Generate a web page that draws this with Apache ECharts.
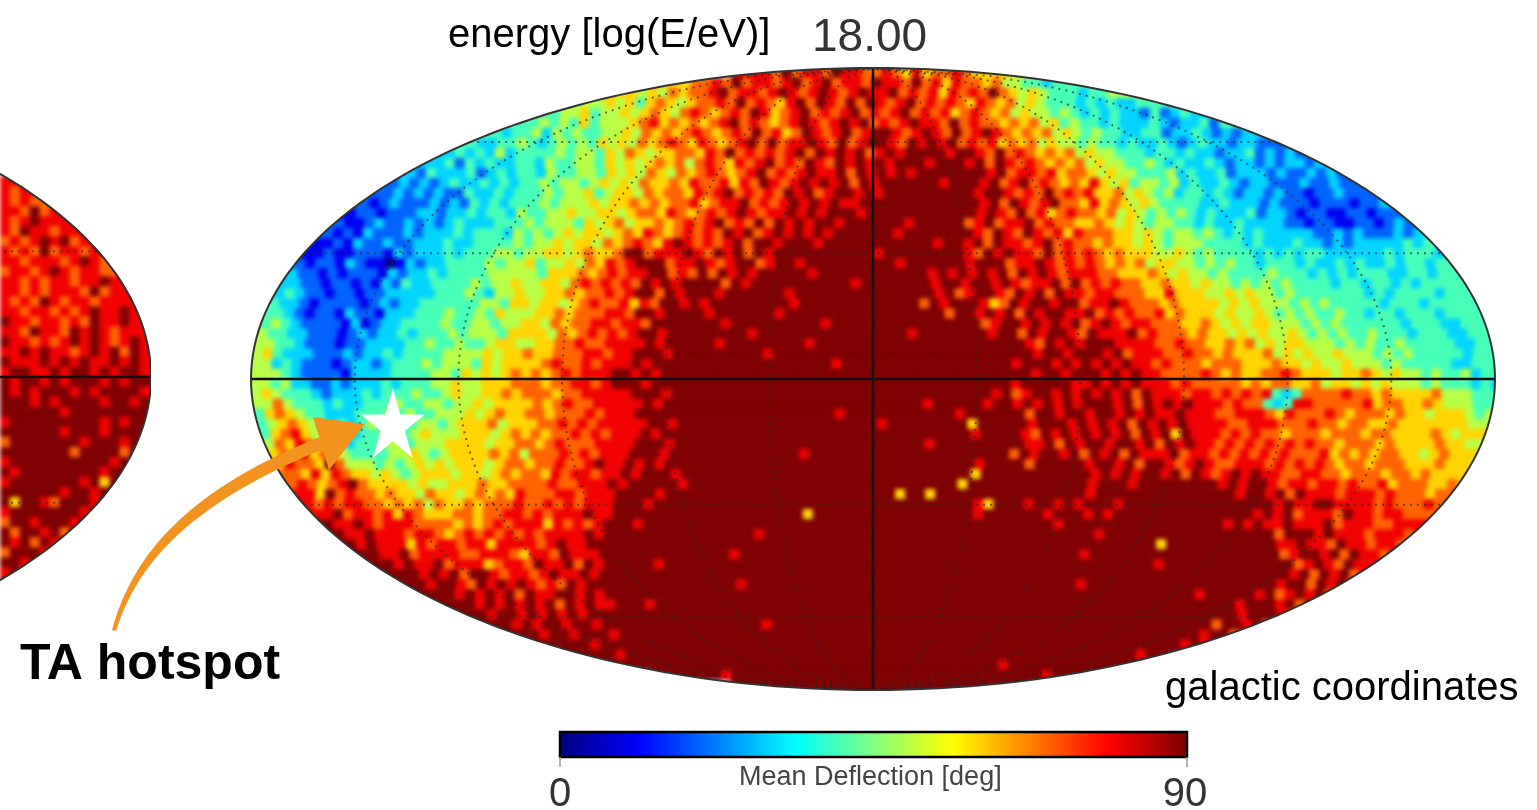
<!DOCTYPE html>
<html><head><meta charset="utf-8">
<style>html,body{margin:0;padding:0;background:#fff}
#map,#c{position:absolute;left:0;top:0;width:1537px;height:810px}
#map{filter:blur(2px);clip-path:path('M251 379 A622 311 0 1 0 1495 379 A622 311 0 1 0 251 379 Z M151 377 A622 311 0 1 0 -1093 377 A622 311 0 1 0 151 377 Z')}
</style>
<script src="https://cdn.jsdelivr.net/npm/echarts@6/dist/echarts.min.js"></script>
</head><body><div id="map"></div><div id="c"></div>
<script>
// Mean deflection per sky cell, in tens of degrees (0..9). One string per latitude band, north to south;
// each string starts at the western limb of the map. Spaces only group the cells.
const skyRows = [
"8797887988 7787686778 76",
"6778797887 8978978879 8879786877 67554434",
"6565767 78978878987898789 8897878687879 765654443445",
"55656467656 77879787689798797 9878978787687 6756544434343344",
"455645565 67657876 787986789787897 87897878678 767565 545434 3433242343",
"4454546455 56786767 678978767898789 8978789887978 776767 564544 3433343233424",
"434453545445 56576 76787 678797867987 8978998 789879789 876767 565454 43344233432323",
"43344543454 5465657 678768 7678979788 98797899 8798989 7878 676756 554544 3433432343323322",
"343435344 44545546 57656 67768 7978787 89798989 78989 999899 87978 76767 56554 44344 3433233423232",
"334243433 44354455 46565 67675 787687 8978798 798989 8999899 989798 78767 67565 54454 3433432332323323",
"32433342 343443 54455 46565 76576 787678 9787898 8979898 9899999 998978 87867 76565 54445 34334233323223232",
"232323433 43434454 55456 56576 67687 786879 878989 8979899 9999899 989789 78767 68656 45545 343343233222322322",
"22323232 243343 444545 56456 65767 76878 978787 989789 98989 9999999 989987 87978 78667 56545 34434323323221223222",
"2123222 32324 34344 45455 56566 76767 78678 897878 989898 89999 9999999 98979 87897 76867 65654 4443343332322212221223",
"1221222 33233 43443 54455 65566 56776 87678 789878 898989 99899 999999 99989 87978 67877 67565 45454 34333423321221122122",
"2112322 32323 43334 44545 55465 67566 76787 897879 798989 98999 999899 99978 97889 78776 67656 54554 43433433332212211221232",
"212132 22323 33434 44354 54565 66567 68767 878798 978989 89899 999989 99999 98798 79878 68777 66565 45545 434343333322323222323",
"112132 23223 33433 44445 45565 66576 78768 987878 979989 99899 999999 99989 98979 88789 78776 76656 54555 44443433343323233333434",
"1121122 21323 33434 44554 55665 67667 99788 898798 979899 99999 999899 99999 98798 98879 78787 67666 55654 544443434344333333434443",
"2122132 11013 23344 44545 56455 65768 78999 788987 899789 98999 999999 89999 99899 97889 87878 76767 56655 45454434443433434334344344",
"3221212 22132 33434 44455 55546 66767 87889 978797 989899 99989 999999 99998 98989 89798 98788 87766 67656 554544445444343434443344344",
"3322122 12132 43344 44545 56556 65787 87879 898999 979899 99999 999899 99999 89989 98987 88979 78787 76676 6565545454544443443443434444",
"3432212 21223 33334 44543 55655 66767 78789 979899 989999 99899 999999 99999 98978 99879 89798 87887 77668 666556565545444444434344443444",
"4332122 22123 23344 44445 54665 66567 87786 879989 899999 99989 999999 99999 79899 98679 89989 97889 87776 7666656565554545444443444344444",
"4432122 13221 33344 45445 46555 66767 77887 998999 989999 99899 999999 99999 99979 98989 79899 88978 78778 67666565565454544544344344434444",
"4543222 21312 33444 45445 54556 65767 78878 879999 999899 99999 998999 99999 99999 99789 98989 89789 87887 77667656566555454544444434443344",
"5443322 21232 33434 44545 55466 66576 78787 899899 999999 89999 999999 99999 89999 99989 97989 98798 88978 777676656565565454544544434443344",
"5544322 21223 33344 54454 45665 56677 87788 889899 999899 99999 989999 99999 99999 99999 99879 89899 98888 7787766767565665554545445444443344",
"5643332 22323 34344 44555 56566 76677 78878 899989 999999 99899 999999 99999 99999 99999 99989 98999 89788 8778776766675656556555454544444344",
"5534322 21233 23444 54555 46566 66787 78788 898999 999999 99999 999989 99999 99999 99999 98999 89898 98988 7877767776667665655655545444443344",
"5554322 22133 33444 45546 56567 67678 78889 989899 999999 99999 999999 99999 99999 99999 99989 98999 89898 8777 78767667787 6665667656 5545445344",
"5545332 23233 34344 45565 56667 77677 88789 998999 999999 99999 999999 99999 99999 99999 98999 99889 89898 8878 77777676776 6756656565 5545444343",
"5654443 23334 34445 44565 56676 77767 78888 899989 999999 99999 999999 99999 99999 99998 97899 89898 98979 88878 87878 78434 77778 77676 66675 55444",
"5575444 34334 44544 55455 65666 67678 77888 889899 999999 99999 999999 99999 99899 99989 98989 89899 98979 89898 88787 74348 87777 78677 66765 55444",
"4676544 33344 45454 45556 56766 77677 78788 899999 999999 99999 999989 99999 99999 89999 99799 89989 98989 88988 87788 87687 77876 77767 66566 65454",
"4567654 34345 45445 54566 67566 67787 87888 889989 999999 99999 999999 99899 99999 96999 99899 98989 89798 98988 88778 88777 87767 76676 66666 6555",
"467865 54434 45445 65556 66567 67677 87878 889899 999999 99999 999999 99999 99999 99899 99879 89898 98979 89698 88787 87767 77677 76776 66676 566",
"576875 65344 45545 55666 65667 76787 77888 899989 999999 99999 999999 99999 99899 99999 99889 79899 89989 79898 87878 78787 87767 77676 66676 65",
"67686 76544 44556 54566 66767 57778 78788 899989 999999 99999 989999 99999 99999 99999 97989 98979 89798 88978 87878 78787 77867 67677 66567 6665",
"68776 97555 45456 56566 65677 67787 78988 989899 999999 99999 999999 99999 99999 99899 99799 99989 98979 98789 87788 87878 78767 76777 66676 6656",
"77686 87665 65456 66566 56767 76878 87889 899989 999999 99999 999999 99999 99999 96999 99999 99989 89899 89798 78989 88778 87767 77677 67666 66",
"78767 89766 66565 56667 66777 78778 88989 9999899999 9999999999 9999999999 9969999999 99 99989 99899 99999 98989 98788 78878 77867 77667 6",
"88697 87767 66576 65676 76877 78878 88999 9899999999 9999999999 9999969969 9999999999 99 99899 99999 99999 99899 89798 88788 87877 7677",
"87878 87767 67576 67677 78778 78788 89 9989999999 9999999999 9999999999 9999986999 89989899 98999 99999 99999 99898 89988 88787 7787 7",
"88978 87868 76667 76778 87878 88988 9 9999999999 9999999969 9999999999 9999989999 9989998989 99999 99999 99989 89788 87988 78877 77878",
"98898 78887 77767 67878 88687 8789 9989999999 9999999999 9999999999 9999999999 9999899999 9999999999 98989 88988 89788 87788 888",
"9889 88878 87678 78787 87888 8989 9999999999 9999899999 9999999999 9999999999 9999999989 9999999999 9999 99799 98988 87888 788",
"9898 88687 88788 68888 78988 99 9999999999 9999999999 9999999999 9999999999 9999999999 9999969999 999999 98898 87988 78878 8",
"9988 97888 87788 87688 79888 9 9999999999 9989999999 9999999999 9999999999 9999999899 9999999999 999999 97899 89798 8788",
"9989 88978 88678 87988 97989 9999899999 9999999999 9999999999 9999999999 9999999999 9999899999 999999 99789 87988 88",
"9998 98979 98788 78988 9899 9999999999 9999999999 9999999999 9999999999 9999999999 9999999999 999999 98979 89788",
"9989 98798 98987 87989 99 9999999999 9989999999 9999999999 9999999999 9999998999 9999999999 999999 89979 8978",
"9998 98989 79889 98989 9999999999 9999999999 9999999999 9999999999 9999999999 9999999989 9999 89789 89798",
"999 89898 98979 89889 9989999999 9999999999 9999999999 9999999999 9999999999 9999999999 98999 89798 98",
"998 99898 98989 99 9999999999 9999999999 9999999999 9999999999 9999999999 9999999999 99899 98798",
"9989 89989 98999 9999999999 9998999999 9999999999 9999999999 9999999999 999999 99799 89798",
"998 99899 98999 9999999999 9999999999 9999999999 9999999999 9999999999 99 99989 97989",
"99998999 9999999999 9999999999 9999999999 9999999999 9999999999 9999 98989",
"9998999999 9999999999 9999999999 9999999999 9999999999 9999989",
"9999999999 9999999999 9999999999 9999999899",
"9999899999 9999999999 9999999999 99999989",
"9999999999 9999999999 99"
];
// Partly visible neighbouring map at the left edge, same band layout, each string starting at x = 0.
const leftFirstRow = 11;
const leftRows = [
"8","878","8787","887978","8789888","87988788","787898978","8787978878",
"88788878987","78878987887","887878878898","8878788879788","8787987887888","88788787898898","98878878798898",
"88798879898788","988787898987898","889898878989798","988898989889898","899889899898998",
"989989899989899","989899989899998","999898999989989","999999899999999","899999999989899",
"999999899989999","799999998999899","999999979999799","899999999998989","989999999989999",
"899999998969999","999999899899989","969987999899","899999998969","799899989989","979989799",
"989798969","79998989","9989796","897969","96798","7969","979","7"
];
const colorbarMin = 0, colorbarMax = 90;
const deflectionStep = 10;
const meridianLons = [-150,-120,-90,-60,-30,30,60,90,120,150];
const parallelYs = [0.404,0.762,-0.404,-0.762];
const hotspot = [-0.772,-0.1415];

const jet = ['#00007f','#0000ff','#007fff','#00ffff','#7fff7f','#ffff00','#ff7f00','#ff0000','#7f0000'];
const chord = y => Math.sqrt(Math.max(0,1-y*y));
const bands = skyRows.length;
const cellW = 2/124.4;

function cells(rows, firstRow){
  const out=[];
  rows.forEach((raw,k)=>{
    const s=raw.replace(/ /g,'');
    for(let j=0;j<s.length;j++) out.push([j,k+firstRow,Number(s[j])*deflectionStep,s.length]);
  });
  return out;
}
function cellRenderer(leftEdge){
  return function(params,api){
    const j=api.value(0), i=api.value(1), n=api.value(3);
    let yT=1-2*i/bands, yB=1-2*(i+1)/bands;
    const yM=(yT+yB)/2;
    const x0=(leftEdge===null?-chord(yM):leftEdge)+j*cellW;
    let xL=x0, xR=x0+cellW;
    if(j===0) xL-=0.05;
    if(j===n-1) xR=1.05;
    if(i===0) yT=1.05;
    if(i===bands-1) yB=-1.05;
    const a=api.coord([xL,yT]), b=api.coord([xR,yB]);
    const c=api.visual('color');
    return {type:'rect',shape:{x:a[0],y:a[1],width:b[0]-a[0],height:b[1]-a[1]},style:{fill:c,stroke:c,lineWidth:0.6}};
  };
}
function curve(fn,n){const a=[];for(let k=0;k<=n;k++)a.push(fn(k/n));return a;}
function gratRenderer(params,api){
  const kind=api.value(0), v=api.value(1);
  let pts, style;
  const dotted={stroke:'rgba(40,40,40,0.65)',lineWidth:2,lineDash:[2,5],fill:null};
  const solid={stroke:'#111',lineWidth:2.5,fill:null};
  if(kind===0){pts=curve(t=>{const y=-1+2*t;return [v/180*chord(y),y];},80);style=dotted;}
  else if(kind===1){pts=curve(t=>[(-1+2*t)*chord(v),v],2);style=dotted;}
  else if(kind===2){pts=[[0,-1],[0,1]];style=solid;}
  else if(kind===3){pts=[[-1,0],[1,0]];style=solid;}
  else {pts=curve(t=>[Math.cos(2*Math.PI*t),Math.sin(2*Math.PI*t)],240);style={stroke:'#333',lineWidth:2,fill:null};}
  return {type:'polyline',shape:{points:pts.map(p=>api.coord(p))},style:style,z2:10};
}
const gratData=[...meridianLons.map(v=>[0,v]),...parallelYs.map(v=>[1,v]),[2,0],[3,0],[4,0]];
const sideData=[[3,0],[4,0],[1,0.404],[1,-0.404]];

function bez(p0,p1,p2,p3,t){const s=1-t;return [
  s*s*s*p0[0]+3*s*s*t*p1[0]+3*s*t*t*p2[0]+t*t*t*p3[0],
  s*s*s*p0[1]+3*s*s*t*p1[1]+3*s*t*t*p2[1]+t*t*t*p3[1]];}
const shaftOuter=curve(t=>bez([112,630],[135,545],[200,485],[322,436],t),30);
const shaftInner=curve(t=>bez([328,447],[205,497],[140,553],[116,631],t),30);

const axisOff={type:'value',show:false};
const grids=[{left:251,top:68,width:1244,height:622},{left:0,top:66,width:151,height:622}];
const xAxes=[{...axisOff,gridIndex:0,min:-1,max:1},{...axisOff,gridIndex:1,min:0.757,max:1}];
const yAxes=[{...axisOff,gridIndex:0,min:-1,max:1},{...axisOff,gridIndex:1,min:-1,max:1}];

const mapChart=echarts.init(document.getElementById('map'));
mapChart.setOption({
  animation:false,grid:grids,xAxis:xAxes,yAxis:yAxes,
  visualMap:{show:false,type:'continuous',min:colorbarMin,max:colorbarMax,dimension:2,seriesIndex:[0,1],inRange:{color:jet}},
  series:[
    {type:'custom',name:'Mean deflection',xAxisIndex:0,yAxisIndex:0,renderItem:cellRenderer(null),data:cells(skyRows,0),silent:true,clip:false},
    {type:'custom',name:'Neighbour map',xAxisIndex:1,yAxisIndex:1,renderItem:cellRenderer(0.757),data:cells(leftRows,leftFirstRow),silent:true,clip:false}
  ]
});

const chart=echarts.init(document.getElementById('c'));
chart.setOption({
  animation:false,grid:grids,xAxis:xAxes,yAxis:yAxes,
  visualMap:{type:'continuous',orient:'horizontal',min:colorbarMin,max:colorbarMax,seriesIndex:[],padding:0,
    left:560,top:733,itemHeight:627,itemWidth:23,calculable:false,realtime:false,hoverLink:false,
    inRange:{color:jet},textStyle:{color:'transparent',fontSize:1}},
  series:[
    {type:'custom',name:'Graticule',xAxisIndex:0,yAxisIndex:0,renderItem:gratRenderer,data:gratData,silent:true,clip:false,z:5},
    {type:'custom',name:'Graticule left',xAxisIndex:1,yAxisIndex:1,renderItem:gratRenderer,data:sideData,silent:true,clip:true,z:5},
    {type:'scatter',name:'TA hotspot',xAxisIndex:0,yAxisIndex:0,z:8,silent:true,data:[hotspot],
      symbol:'path://M50 0 L61.8 36 L100 36 L69 58 L80.9 95 L50 72 L19.1 95 L31 58 L0 36 L38.2 36 Z',
      symbolSize:[64,70],itemStyle:{color:'#fff',opacity:1}}
  ],
  graphic:[
    {type:'polygon',z:7,silent:true,shape:{points:shaftOuter.concat(shaftInner)},style:{fill:'#f2921f'}},
    {type:'polygon',z:7,silent:true,shape:{points:[[313,417],[365,424],[329,470]]},style:{fill:'#f2921f'}},
    {type:'rect',z:6,silent:true,shape:{x:560,y:732,width:627,height:25},style:{fill:null,stroke:'#000',lineWidth:2.5}},
    {type:'line',z:6,silent:true,shape:{x1:560,y1:757,x2:560,y2:767},style:{stroke:'#999',lineWidth:1.5}},
    {type:'line',z:6,silent:true,shape:{x1:1187,y1:757,x2:1187,y2:767},style:{stroke:'#999',lineWidth:1.5}},
    {type:'text',z:9,silent:true,style:{text:'energy [log(E/eV)]',x:448,y:36,fill:'#000',font:'40px "Liberation Sans"',textVerticalAlign:'middle'}},
    {type:'text',z:9,silent:true,style:{text:'18.00',x:812,y:38,fill:'#333',font:'46px "Liberation Sans"',textVerticalAlign:'middle'}},
    {type:'text',z:9,silent:true,style:{text:'TA hotspot',x:20,y:665,fill:'#000',font:'bold 50px "Liberation Sans"',textVerticalAlign:'middle'}},
    {type:'text',z:9,silent:true,style:{text:'galactic coordinates',x:1165,y:689,fill:'#000',font:'40px "Liberation Sans"',textVerticalAlign:'middle'}},
    {type:'text',z:9,silent:true,style:{text:'Mean Deflection [deg]',x:739,y:778,fill:'#444',font:'27px "Liberation Sans"',textVerticalAlign:'middle'}},
    {type:'text',z:9,silent:true,style:{text:String(colorbarMin),x:560,y:795,fill:'#333',font:'40px "Liberation Sans"',textAlign:'center',textVerticalAlign:'middle'}},
    {type:'text',z:9,silent:true,style:{text:String(colorbarMax),x:1185,y:795,fill:'#333',font:'40px "Liberation Sans"',textAlign:'center',textVerticalAlign:'middle'}}
  ]
});
</script></body></html>
